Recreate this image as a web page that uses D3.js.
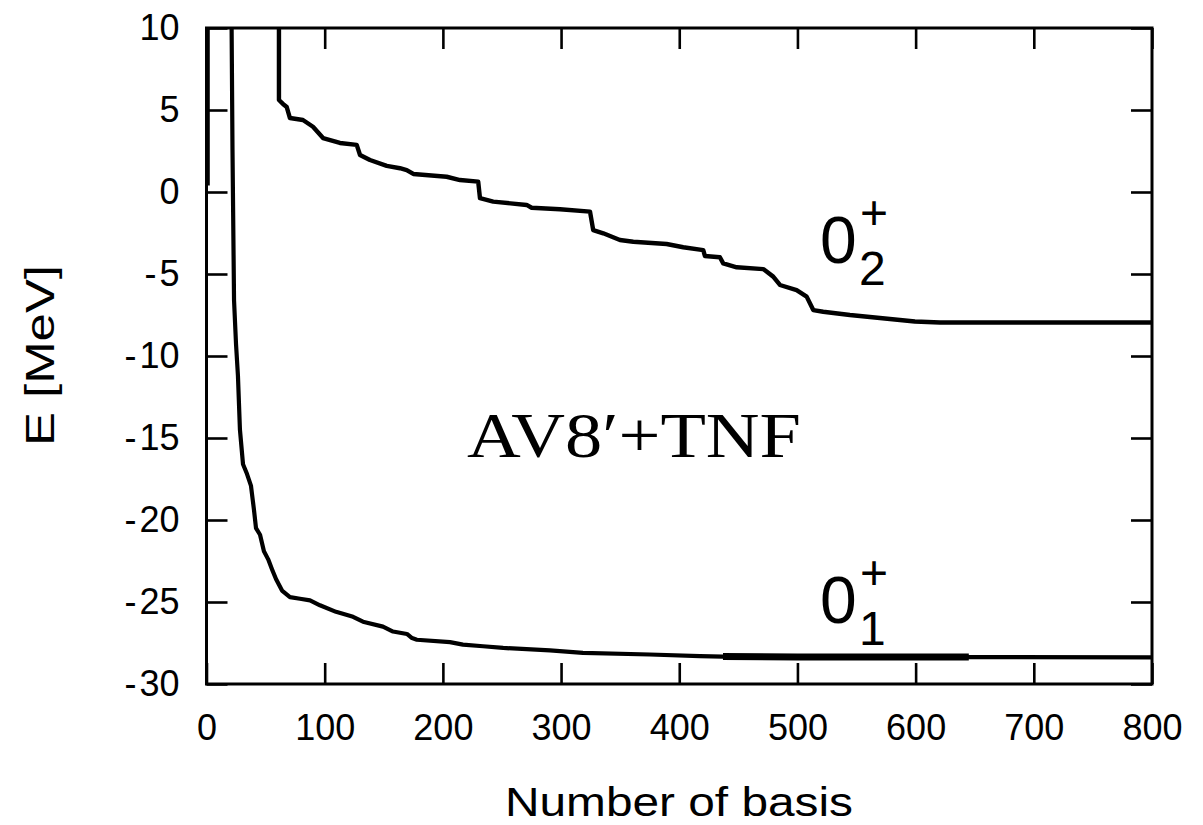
<!DOCTYPE html>
<html>
<head>
<meta charset="utf-8">
<script src="https://cdn.jsdelivr.net/npm/d3@7"></script>
<style>
  html, body { margin: 0; padding: 0; background: #fff; }
  svg { display: block; }
  .tick text { font-family: "Liberation Sans", Arial, sans-serif; }
</style>
</head>
<body>
<svg id="chart" width="1203" height="825"></svg>
<script>
// Convergence of the 0+ energies with the number of basis states
const xTicks = [0, 100, 200, 300, 400, 500, 600, 700, 800];
const yTicks = [-30, -25, -20, -15, -10, -5, 0, 5, 10];

// lowest 0+ state (null marks a break in the trace)
const groundBasis = [1, 1, null,
  21.2, 22.0, 23.3, 25.0, 26.6, 28.3, 30.9, 34.3, 37.6, 40.2, 41.9, 45.3, 48.6,
  52.2, 55.4, 58.8, 63.9, 70.6, 79.1, 87.6, 96, 109.6, 124, 132.4, 149.3, 157.8,
  169.6, 173.9, 178, 206, 217, 234, 251, 290.6, 318.5, 375, 417.5, 437, 500, 645, 800];
const groundEnergy = [12, 0.4, null,
  10.5, 2.56, -6.6, -9.3, -11.2, -14.5, -16.6, -17.2, -17.9, -19.4, -20.5, -20.9, -21.9,
  -22.4, -23.0, -23.6, -24.3, -24.7, -24.8, -24.9, -25.2, -25.6, -25.9, -26.2, -26.5, -26.8,
  -26.95, -27.2, -27.3, -27.45, -27.6, -27.7, -27.8, -27.95, -28.1, -28.2, -28.3, -28.33, -28.35, -28.36, -28.38];

// second 0+ state
const excitedBasis = [61.3, 61.3, 64.7, 67.9, 70.6, 81.6, 90.1, 98.6, 112.9, 127.1, 129.9,
  138.3, 152.5, 163.7, 169.4, 175, 203.2, 214.5, 229.9, 231.4, 242.6, 270.9, 275.1, 299.1,
  324.5, 327.2, 335.7, 349.8, 361.1, 389.3, 403.4, 420.3, 421.7, 434.4, 437.2, 448.6, 471.1,
  479.5, 485.2, 499.3, 507.8, 513.4, 521.8, 544.4, 569.8, 599.4, 620.6, 800];
const excitedEnergy = [10.5, 5.61, 5.37, 5.18, 4.51, 4.39, 3.98, 3.29, 2.99, 2.87, 2.26,
  1.95, 1.59, 1.45, 1.34, 1.10, 0.93, 0.73, 0.63, -0.38, -0.59, -0.79, -0.96, -1.05,
  -1.20, -2.32, -2.52, -2.93, -3.03, -3.17, -3.37, -3.54, -3.90, -3.98, -4.35, -4.59, -4.70,
  -5.16, -5.67, -5.98, -6.38, -7.20, -7.30, -7.50, -7.68, -7.90, -7.96, -7.96];

// range where the converged ground-state trace is drawn heavier
const plateauRange = [437, 645];

(function draw() {
  const svg = d3.select("#chart");
  const pLeft = 206.5, pRight = 1152, pTop = 28, pBottom = 684;

  const x = d3.scaleLinear().domain([0, 800]).range([pLeft, pRight]);
  const y = d3.scaleLinear().domain([-30, 10]).range([pBottom, pTop]);

  svg.append("defs").append("clipPath").attr("id", "plot-clip")
    .append("rect").attr("x", pLeft).attr("y", pTop)
    .attr("width", pRight - pLeft).attr("height", pBottom - pTop);

  const tickLen = 21;
  // ASCII hyphen with a hair gap before the digits
  const plain = d => d < 0 ? "-\u200A" + Math.abs(d) : String(d);
  function styleAxis(g, showLabels) {
    g.select(".domain").remove();
    g.selectAll(".tick line").attr("stroke", "#000").attr("stroke-width", 2.6);
    g.selectAll(".tick text").attr("fill", "#000").attr("font-size", 36);
    if (!showLabels) g.selectAll(".tick text").remove();
  }

  svg.append("g").attr("transform", `translate(0,${pBottom})`)
    .call(d3.axisBottom(x).tickValues(xTicks).tickSize(-tickLen).tickPadding(30).tickFormat(plain))
    .call(g => styleAxis(g, true));
  svg.append("g").attr("transform", `translate(0,${pTop})`)
    .call(d3.axisTop(x).tickValues(xTicks).tickSize(-tickLen))
    .call(g => styleAxis(g, false));
  svg.append("g").attr("transform", `translate(${pLeft},0)`)
    .call(d3.axisLeft(y).tickValues(yTicks).tickSize(-tickLen).tickPadding(27).tickFormat(plain))
    .call(g => styleAxis(g, true));
  svg.append("g").attr("transform", `translate(${pRight},0)`)
    .call(d3.axisRight(y).tickValues(yTicks).tickSize(-tickLen))
    .call(g => styleAxis(g, false));

  const toPoints = (xs, ys) => xs.map((v, i) => [v, ys[i]]);
  const line = d3.line()
    .defined(d => d[0] !== null && d[1] !== null)
    .x(d => x(d[0])).y(d => y(d[1]));

  const curves = svg.append("g").attr("clip-path", "url(#plot-clip)")
    .attr("fill", "none").attr("stroke", "#000")
    .attr("stroke-linejoin", "round").attr("stroke-linecap", "butt");

  const groundPts = toPoints(groundBasis, groundEnergy);
  curves.append("path").attr("d", line(groundPts)).attr("stroke-width", 4.2);
  curves.append("path")
    .attr("d", line(groundPts.filter(d => d[0] !== null && d[0] >= plateauRange[0] && d[0] <= plateauRange[1])))
    .attr("stroke-width", 7);
  curves.append("path").attr("d", line(toPoints(excitedBasis, excitedEnergy))).attr("stroke-width", 4.4);

  // frame
  svg.append("rect").attr("x", pLeft).attr("y", pTop)
    .attr("width", pRight - pLeft).attr("height", pBottom - pTop)
    .attr("fill", "none").attr("stroke", "#000").attr("stroke-width", 3);

  // axis titles
  const sans = "'Liberation Sans', Arial, sans-serif";
  svg.append("text").attr("x", 505).attr("y", 816)
    .attr("font-family", sans).attr("font-size", 40)
    .attr("textLength", 348).attr("lengthAdjust", "spacingAndGlyphs")
    .text("Number of basis");
  svg.append("text").attr("transform", "translate(54,446) rotate(-90)")
    .attr("font-family", sans).attr("font-size", 40)
    .attr("textLength", 181).attr("lengthAdjust", "spacingAndGlyphs")
    .text("E [MeV]");

  // state labels
  function stateLabel(x0, base, sub) {
    svg.append("text").attr("x", x0).attr("y", base)
      .attr("font-family", sans).attr("font-size", 66).text("0");
    svg.append("text").attr("x", x0 + 39).attr("y", base + 22)
      .attr("font-family", sans).attr("font-size", 48).text(sub);
    svg.append("text").attr("x", x0 + 40).attr("y", base - 34)
      .attr("font-family", sans).attr("font-size", 48).text("+");
  }
  stateLabel(820, 263, "2");
  stateLabel(820, 623, "1");

  // interaction label
  svg.append("text").attr("x", 467).attr("y", 457)
    .attr("font-family", "'Liberation Serif', 'DejaVu Serif', serif").attr("font-size", 64)
    .attr("textLength", 334).attr("lengthAdjust", "spacingAndGlyphs")
    .text("AV8\u2032+TNF");
})();
</script>
</body>
</html>
